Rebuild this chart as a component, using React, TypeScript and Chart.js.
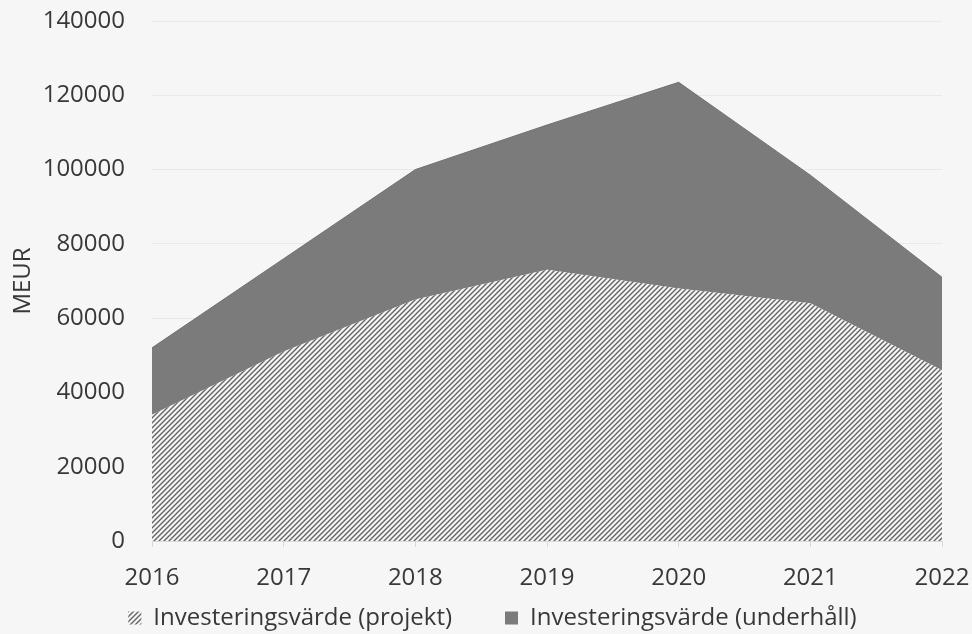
import React, { useEffect, useRef } from "react";
import { Chart, registerables } from "chart.js";

Chart.register(...registerables);

const years = ["2016", "2017", "2018", "2019", "2020", "2021", "2022"];
const projektValues = [34000, 51000, 65000, 73000, 68000, 64000, 46000];
const underhallValues = [18000, 25000, 35000, 39000, 55500, 34500, 25000];
const yTicks = [0, 20000, 40000, 60000, 80000, 100000, 120000, 140000];
const seriesNames = ["Investeringsvärde (projekt)", "Investeringsvärde (underhåll)"];
const yTitle = "MEUR";

const FONT = "'Open Sans', sans-serif";
const TEXT = "#383838";

export default function App() {
  const ref = useRef<HTMLCanvasElement | null>(null);

  useEffect(() => {
    document.body.style.margin = "0";
    const canvas = ref.current!;
    const ctx = canvas.getContext("2d")!;

    const s = 5;
    const tile = document.createElement("canvas");
    tile.width = s;
    tile.height = s;
    const tctx = tile.getContext("2d")!;
    tctx.fillStyle = "#f5f5f5";
    tctx.fillRect(0, 0, s, s);
    tctx.strokeStyle = "#646464";
    tctx.lineWidth = 1.4;
    tctx.beginPath();
    tctx.moveTo(0, s);
    tctx.lineTo(s, 0);
    tctx.moveTo(-1, 1);
    tctx.lineTo(1, -1);
    tctx.moveTo(s - 1, s + 1);
    tctx.lineTo(s + 1, s - 1);
    tctx.stroke();
    const hatch = ctx.createPattern(tile, "repeat")!;

    const legendShift = {
      id: "legendShift",
      afterLayout(c: any) {
        if (c.legend) c.legend.left += 13;
      },
    };

    const chart = new Chart(ctx, {
      type: "line",
      data: {
        labels: years,
        datasets: [
          {
            label: seriesNames[0],
            data: projektValues,
            backgroundColor: hatch as any,
            borderColor: "rgba(0,0,0,0)",
            borderWidth: 0,
            fill: "origin",
            pointRadius: 0,
            tension: 0,
          },
          {
            label: seriesNames[1],
            data: underhallValues,
            backgroundColor: "#7b7b7b",
            borderColor: "#727272",
            borderWidth: 1,
            fill: "-1",
            pointRadius: 0,
            tension: 0,
          },
        ],
      },
      plugins: [legendShift],
      options: {
        animation: false,
        responsive: false,
        layout: { padding: 0 },
        plugins: {
          tooltip: { enabled: false },
          legend: {
            position: "bottom",
            maxHeight: 33,
            labels: {
              font: { family: FONT, size: 24 },
              color: TEXT,
              boxWidth: 13,
              boxHeight: 13,
              padding: 5,
              generateLabels: (c: any) => {
                const items = Chart.defaults.plugins.legend.labels.generateLabels(c);
                items.forEach((it: any, i: number) => {
                  if (i === 0) it.text = it.text + "\u2002\u2002\u2002\u2002";
                  it.lineWidth = 0;
                });
                return items;
              },
            },
          },
        },
        scales: {
          x: {
            offset: false,
            afterFit: (scale: any) => {
              scale.height = 60;
              scale.paddingRight = 30;
            },
            grid: {
              display: true,
              drawOnChartArea: false,
              drawTicks: true,
              tickLength: 6,
              color: "#d9d9d9",
            },
            border: { display: true, color: "#d9d9d9" },
            ticks: {
              font: { family: FONT, size: 24 },
              color: TEXT,
              padding: 17,
              maxRotation: 0,
            },
          },
          y: {
            stacked: true,
            min: 0,
            max: 140000,
            afterBuildTicks: (scale: any) => {
              scale.ticks = yTicks.map((v) => ({ value: v }));
            },
            afterFit: (scale: any) => {
              scale.width = 152;
              scale.paddingTop = 21;
              scale.paddingBottom = 0;
            },
            grid: {
              display: true,
              drawOnChartArea: true,
              drawTicks: false,
              color: "#e9e9e9",
            },
            border: { display: false },
            ticks: {
              font: { family: FONT, size: 24 },
              color: TEXT,
              padding: 27,
              callback: (v: any) => String(v),
            },
            title: {
              display: true,
              text: yTitle,
              font: { family: FONT, size: 24 },
              color: TEXT,
              padding: { top: 9, bottom: 0 },
            },
          },
        },
      },
    });
    return () => chart.destroy();
  }, []);

  return (
    <div style={{ width: 972, height: 634, background: "#f6f6f6" }}>
      <canvas ref={ref} width={972} height={634} style={{ display: "block" }} />
    </div>
  );
}
